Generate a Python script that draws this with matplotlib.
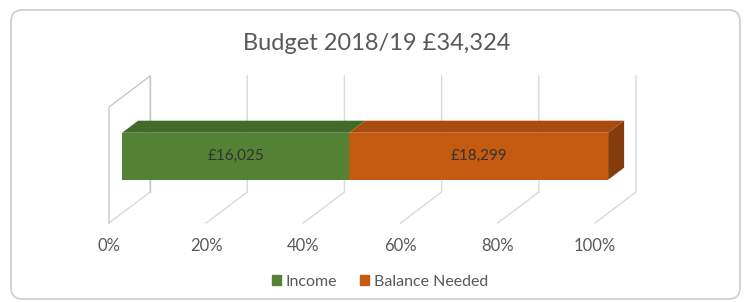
#!/usr/bin/env python3
"""Budget 2018/19 - 3D style 100% stacked bar (income vs balance needed)."""
import matplotlib
matplotlib.use("Agg")
import matplotlib.pyplot as plt
from matplotlib.patches import Polygon, Patch, FancyBboxPatch

plt.rcParams["font.family"] = ["Lato", "DejaVu Sans"]

TITLE = "Budget 2018/19 £34,324"
SERIES = ["Income", "Balance Needed"]
AMOUNTS = [16025, 18299]
VALUE_LABELS = ["£16,025", "£18,299"]
TICKS = [0, 20, 40, 60, 80, 100]
TICK_LABELS = ["0%", "20%", "40%", "60%", "80%", "100%"]

FRONT = ["#548235", "#C55A11"]
TOP = ["#426A2A", "#A84C10"]
SIDE = "#843C0C"
GRID = "#D9D9D9"
TEXT = "#595959"

W, H, DPI = 744, 302, 100
# depth vector of the 3d box (data units), and the bar's slice of that depth
DX, DY = 8.44, 0.267
F0, F1 = 0.32, 0.71
BAR_Y, BAR_H = 0.49, 0.405

fig = plt.figure(figsize=(W / DPI, H / DPI), dpi=DPI)
fig.patches.append(FancyBboxPatch((11 / W, 3 / H), 729 / W, 289 / H,
                                  boxstyle="round,pad=0,rounding_size=0.015",
                                  transform=fig.transFigure, fc="none",
                                  ec="#D0D0D0", lw=1.3, mutation_aspect=W / H, zorder=-1))
fig.text(377 / W, 1 - 43 / H, TITLE, ha="center", va="center", fontsize=17, color=TEXT)

ax = fig.add_axes([109 / W, (H - 223) / H, 486 / W, 116 / H])
ax.set_xlim(0, 100)
ax.set_ylim(0, 1)
for s in ax.spines.values():
    s.set_visible(False)
ax.set_yticks([])
ax.set_xticks(TICKS)
ax.set_xticklabels(TICK_LABELS)
ax.tick_params(axis="x", length=0, pad=11, labelsize=12, labelcolor=TEXT)
ax.patch.set_alpha(0)

# walls / gridlines
for t in TICKS:
    ax.plot([t, t + DX, t + DX], [0, DY, 1 + DY], color=GRID, lw=1, clip_on=False, zorder=1)
ax.plot([0, 0, DX], [0, 1, 1 + DY], color="#C8C8C8", lw=1, clip_on=False, zorder=1)
ax.plot([DX, DX], [DY, 1 + DY], color="#C8C8C8", lw=1, clip_on=False, zorder=1)

total = sum(AMOUNTS)
pct = [a / total * 100 for a in AMOUNTS]
lefts = [0, pct[0]]
top = BAR_Y + BAR_H / 2
bot = BAR_Y - BAR_H / 2

for i, (p, l) in enumerate(zip(pct, lefts)):
    ax.barh(BAR_Y + F0 * DY, p, left=l + F0 * DX, height=BAR_H, color=FRONT[i],
            zorder=3, clip_on=False)
    ax.add_patch(Polygon([(l + F0 * DX, top + F0 * DY), (l + p + F0 * DX, top + F0 * DY),
                          (l + p + F1 * DX, top + F1 * DY), (l + F1 * DX, top + F1 * DY)],
                         closed=True, fc=TOP[i], ec="none", zorder=3, clip_on=False))
    ax.text(l + p / 2 + F0 * DX, BAR_Y + F0 * DY, VALUE_LABELS[i], ha="center", va="center",
            fontsize=11, color="#333333", zorder=4)

end = lefts[-1] + pct[-1]
ax.add_patch(Polygon([(end + F0 * DX, bot + F0 * DY), (end + F1 * DX, bot + F1 * DY),
                      (end + F1 * DX, top + F1 * DY), (end + F0 * DX, top + F0 * DY)],
                     closed=True, fc=SIDE, ec="none", zorder=3, clip_on=False))

handles = [Patch(color=FRONT[0]), Patch(color=FRONT[1])]
fig.legend(handles, SERIES, loc="center", bbox_to_anchor=(380 / W, 1 - 282 / H), ncol=2,
           frameon=False, handlelength=0.6, handleheight=0.6, handletextpad=0.3,
           columnspacing=1.4, fontsize=11.5, labelcolor=TEXT)

fig.savefig("out.png", dpi=DPI, facecolor="white")
